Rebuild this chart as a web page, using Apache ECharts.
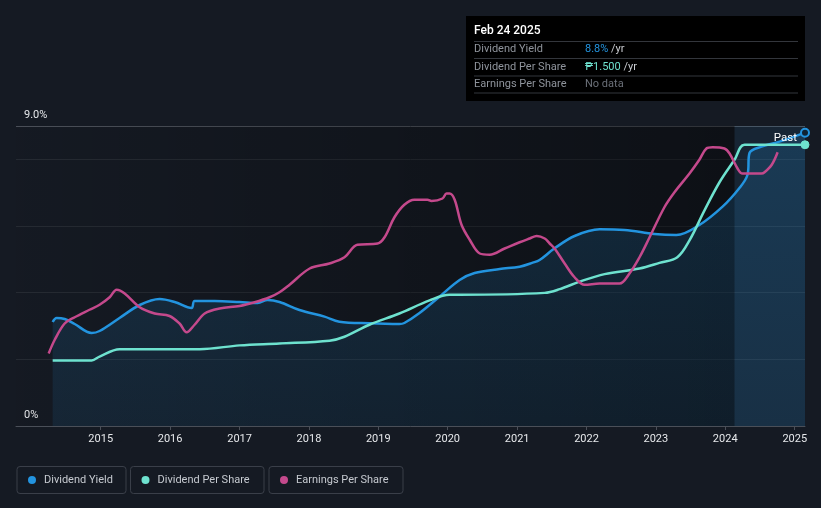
<!DOCTYPE html>
<html>
<head>
<meta charset="utf-8">
<script src="https://cdn.jsdelivr.net/npm/echarts@6/dist/echarts.min.js"></script>
<style>
html,body{margin:0;padding:0;background:#151a23;}
#chart{width:821px;height:508px;}
</style>
</head>
<body>
<div id="chart"></div>
<script>
// ---- data ----
const yieldDates = ['2014-04-23','2014-05-14','2014-06-25','2014-08-17','2014-11-14','2014-12-26','2015-04-10','2015-07-25','2015-11-07','2016-01-25','2016-04-23','2016-05-09','2016-08-23','2017-01-01','2017-04-06','2017-05-28','2017-07-30','2017-11-12','2018-03-24','2018-06-10','2018-11-15','2019-04-22','2019-05-18','2019-08-06','2019-11-19','2020-03-04','2020-05-22','2020-10-01','2021-01-14','2021-03-24','2021-04-29','2021-07-17','2021-10-30','2022-03-11','2022-07-20','2022-12-25','2023-04-19','2023-08-18','2023-12-18','2024-03-16','2024-04-27','2024-05-08','2024-07-10','2024-10-13','2025-02-24'];
const yieldValues = [3.12,3.24,3.21,3.06,2.79,2.85,3.24,3.63,3.81,3.72,3.54,3.75,3.75,3.72,3.69,3.78,3.72,3.48,3.28,3.13,3.08,3.06,3.09,3.39,3.88,4.38,4.59,4.71,4.78,4.90,4.98,5.33,5.70,5.90,5.88,5.76,5.73,6.03,6.58,7.14,7.53,8.19,8.38,8.53,8.8];

const dpsDates = ['2014-04-23','2014-11-14','2014-12-26','2015-04-10','2016-06-05','2017-01-01','2017-07-30','2018-04-19','2018-07-07','2018-11-15','2019-04-22','2019-09-28','2020-01-11','2020-03-04','2021-05-26','2021-08-13','2021-11-26','2022-04-06','2022-10-07','2023-01-20','2023-04-24','2023-06-27','2023-09-14','2023-12-02','2024-02-19','2024-04-12','2025-02-24'];
const dpsValues = [0.35,0.35,0.37,0.41,0.41,0.43,0.44,0.455,0.476,0.54,0.60,0.67,0.70,0.70,0.71,0.73,0.77,0.81,0.84,0.87,0.90,0.99,1.15,1.30,1.42,1.50,1.50];

const epsDates = ['2014-04-02','2014-05-04','2014-06-25','2014-08-17','2014-11-03','2014-12-26','2015-02-17','2015-03-26','2015-05-07','2015-07-25','2015-10-12','2015-12-29','2016-02-20','2016-03-28','2016-05-09','2016-07-01','2016-09-18','2017-01-01','2017-03-21','2017-06-08','2017-07-30','2017-09-21','2018-01-05','2018-04-19','2018-07-07','2018-09-13','2018-12-28','2019-02-03','2019-03-27','2019-05-18','2019-07-10','2019-09-17','2019-10-08','2019-12-05','2019-12-26','2020-01-11','2020-02-07','2020-03-14','2020-04-26','2020-06-18','2020-08-09','2020-10-27','2021-01-14','2021-03-08','2021-04-14','2021-05-26','2021-06-21','2021-07-17','2021-09-08','2021-10-30','2021-12-22','2022-03-11','2022-05-03','2022-06-24','2022-08-15','2022-10-07','2022-11-29','2023-02-15','2023-04-09','2023-06-27','2023-08-18','2023-09-24','2023-10-26','2023-12-28','2024-01-24','2024-03-06','2024-04-01','2024-07-10','2024-07-26','2024-09-02','2024-10-03'];
const epsValues = [0.58,0.69,0.82,0.87,0.93,0.97,1.03,1.09,1.06,0.95,0.90,0.88,0.82,0.75,0.81,0.90,0.94,0.96,0.99,1.03,1.07,1.13,1.26,1.30,1.35,1.45,1.46,1.51,1.67,1.77,1.81,1.81,1.80,1.82,1.86,1.86,1.81,1.61,1.49,1.38,1.37,1.42,1.47,1.50,1.52,1.50,1.46,1.42,1.30,1.19,1.13,1.14,1.14,1.14,1.22,1.35,1.51,1.75,1.87,2.02,2.13,2.22,2.23,2.22,2.18,2.06,2.02,2.02,2.03,2.09,2.19];

const yearTicks = ['2015','2016','2017','2018','2019','2020','2021','2022','2023','2024','2025'];
const axisStart = '2013-10-12';
const axisEnd = '2025-02-24';
const pastStart = '2024-02-19';
const yTickLabels = {0:'0%', 9:'9.0%'};

const tipDate = 'Feb 24 2025';
const tipRows = [
  ['Dividend Yield', '8.8%', ' /yr', '#2394df'],
  ['Dividend Per Share', '₱1.500', ' /yr', '#6ee2cf'],
  ['Earnings Per Share', 'No data', '', '#6b7079']
];

const C_YIELD = '#2394df', C_DPS = '#6ee2cf', C_EPS = '#c4498c';
const FONT = 'Roboto, "Noto Sans", sans-serif';

const ts = s => new Date(s + 'T00:00:00Z').getTime();
const zip = (d, v) => d.map((x, i) => [ts(x), v[i]]);
const yearTs = yearTicks.map(y => ts(y + '-01-01'));

const chart = echarts.init(document.getElementById('chart'), null, {renderer: 'canvas'});

const graphics = [];
// tooltip-like box
graphics.push({type:'rect', left:466, top:16, shape:{width:339, height:85}, style:{fill:'#000'}});
graphics.push({type:'text', left:474, top:25, style:{text:tipDate, fill:'#ffffff', font:'500 12px ' + FONT}});
[41.5, 58.5, 76, 93].forEach(y => graphics.push({type:'line', shape:{x1:474, y1:y, x2:798, y2:y}, style:{stroke:'#33363c', lineWidth:1}}));
tipRows.forEach((r, i) => {
  const cy = [49.5, 67, 84.5][i];
  graphics.push({type:'text', left:474, top:cy - 5.5, style:{text:r[0], fill:'#8f949c', font:'11px ' + FONT}});
  graphics.push({type:'text', left:585, top:cy - 5.5, style:{
    text:'{v|' + r[1] + '}{u|' + r[2] + '}',
    rich:{v:{fill:r[3], font:'11px ' + FONT}, u:{fill:'#c9ccd1', font:'11px ' + FONT}}
  }});
});
// legend boxes
[[16.5,109],[130,133.5],[268.5,134]].forEach(b => graphics.push({
  type:'rect', left:b[0], top:466, shape:{width:b[1], height:27, r:3},
  style:{fill:'transparent', stroke:'#3a3f49', lineWidth:1}
}));
// "Past" label
graphics.push({type:'text', right:24, top:132, z:100, style:{text:'Past', fill:'#ffffff', font:'11.5px ' + FONT}});

const legendBase = {icon:'circle', itemWidth:8, itemHeight:8, top:474.5, padding:0,
  textStyle:{color:'#c6cad0', fontSize:11, fontFamily:FONT, padding:[0,0,0,3]}};

const option = {
  backgroundColor:'#151a23',
  animation:false,
  textStyle:{fontFamily:FONT},
  grid:{left:16, right:16, top:126, bottom:82, containLabel:false},
  legend:[
    Object.assign({}, legendBase, {left:28, data:['Dividend Yield']}),
    Object.assign({}, legendBase, {left:141.5, data:['Dividend Per Share']}),
    Object.assign({}, legendBase, {left:280, data:['Earnings Per Share']})
  ],
  xAxis:{
    type:'value', min:ts(axisStart), max:ts(axisEnd),
    axisLine:{show:true, lineStyle:{color:'#4a4f58', width:1}},
    axisTick:{show:true, length:4, lineStyle:{color:'#4a4f58'}, customValues:yearTs},
    axisLabel:{color:'#e6e8eb', fontSize:11, margin:8, fontFamily:FONT,
      customValues:yearTs,
      formatter: v => String(new Date(v).getUTCFullYear())},
    splitLine:{show:false}
  },
  yAxis:[
    {type:'value', min:0, max:9, interval:2, position:'left',
      axisLine:{show:false}, axisTick:{show:false},
      axisLabel:{inside:true, margin:8, color:'#e6e8eb', fontSize:11, verticalAlign:'bottom',
        padding:[0,0,5,0], formatter: v => (yTickLabels[v] || '')},
      splitLine:{show:true, lineStyle:{width:1, color:['#2b3038','#262b33','#262b33','#262b33','#262b33','#4b5059']}}
    },
    {type:'value', min:0, max:1.6, show:false, splitLine:{show:false}},
    {type:'value', min:0, max:2.4, show:false, splitLine:{show:false}}
  ],
  graphic:graphics,
  series:[
    {
      name:'regions', type:'line', data:[], z:-1, silent:true,
      markArea:{silent:true, data:[
        [{xAxis:ts(axisStart), itemStyle:{color:{type:'linear', x:0, y:0, x2:1, y2:0, colorStops:[
            {offset:0, color:'rgba(0,0,0,0.02)'}, {offset:1, color:'rgba(0,0,0,0.38)'}]}}},
         {xAxis:ts(pastStart)}],
        [{xAxis:ts(pastStart), itemStyle:{color:'rgba(45,120,185,0.12)'}},
         {xAxis:ts(axisEnd)}]
      ]}
    },
    {
      name:'Dividend Yield', type:'line', yAxisIndex:0, data:zip(yieldDates, yieldValues),
      smooth:0.35, showSymbol:false, z:3,
      lineStyle:{color:C_YIELD, width:2.5}, itemStyle:{color:C_YIELD},
      areaStyle:{color:{type:'linear', x:0, y:0, x2:0, y2:1, colorStops:[
        {offset:0, color:'rgba(35,148,223,0.27)'}, {offset:1, color:'rgba(35,148,223,0.14)'}]}},
      markPoint:{symbol:'circle', symbolSize:8, label:{show:false}, silent:true,
        itemStyle:{color:'#0f2333', borderColor:C_YIELD, borderWidth:2},
        data:[{coord:[ts(axisEnd), yieldValues[yieldValues.length-1]]}]}
    },
    {
      name:'Dividend Per Share', type:'line', yAxisIndex:1, data:zip(dpsDates, dpsValues),
      smooth:0.35, showSymbol:false, z:4,
      lineStyle:{color:C_DPS, width:2.5}, itemStyle:{color:C_DPS},
      markPoint:{symbol:'circle', symbolSize:8, label:{show:false}, silent:true,
        itemStyle:{color:C_DPS, borderColor:C_DPS, borderWidth:1},
        data:[{coord:[ts(axisEnd), dpsValues[dpsValues.length-1]]}]}
    },
    {
      name:'Earnings Per Share', type:'line', yAxisIndex:2, data:zip(epsDates, epsValues),
      smooth:0.35, showSymbol:false, z:5,
      lineStyle:{color:C_EPS, width:2.5}, itemStyle:{color:C_EPS}
    }
  ]
};
chart.setOption(option);
</script>
</body>
</html>
